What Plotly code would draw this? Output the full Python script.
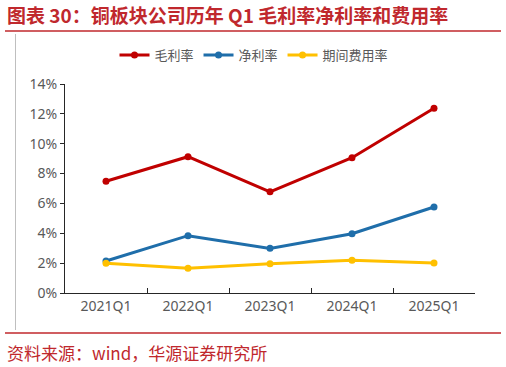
import plotly.graph_objects as go

categories = ["2021Q1", "2022Q1", "2023Q1", "2024Q1", "2025Q1"]
gross_margin = [0.0749, 0.0913, 0.0678, 0.0906, 0.1237]
net_margin = [0.0214, 0.0384, 0.0299, 0.0397, 0.0576]
expense_ratio = [0.0199, 0.0165, 0.0196, 0.0219, 0.0201]
series_names = ["毛利率", "净利率", "期间费用率"]
colors = ["#C00000", "#1F6EAA", "#FFC000"]

W, H = 506, 367
L, R, T, B = 65, 31, 84, 74

fig = go.Figure()
for name, vals, c in zip(series_names, [gross_margin, net_margin, expense_ratio], colors):
    fig.add_trace(go.Scatter(
        x=categories, y=vals, name=name, mode="lines+markers",
        line=dict(color=c, width=3),
        marker=dict(color=c, size=7),
    ))

CJK = "Noto Sans CJK SC"
red = "#C0282D"

def px(x):
    return (x - L) / (W - L - R)

def py(y):
    return (H - B - y) / (H - T - B)

fig.update_layout(
    width=W, height=H,
    margin=dict(l=L, r=R, t=T, b=B, autoexpand=False),
    paper_bgcolor="white", plot_bgcolor="white",
    showlegend=True,
    legend=dict(orientation="h", x=px(254), xanchor="center",
                y=py(55), yanchor="middle",
                font=dict(family=CJK, size=13, color="#595959"),
                itemwidth=30, tracegroupgap=0, bgcolor="rgba(0,0,0,0)"),
    xaxis=dict(type="category", showline=True, linecolor="#262626", linewidth=1.3,
               ticks="inside", tickson="boundaries", ticklen=5, tickcolor="#262626",
               showgrid=False, tickfont=dict(family="Noto Sans", size=14, color="#595959"),
               range=[-0.5, 4.5]),
    yaxis=dict(range=[0, 0.14], dtick=0.02, tickformat=".0%", showline=True,
               linecolor="#262626", linewidth=1.3, ticks="outside", ticklen=4,
               tickcolor="#262626", showgrid=False, zeroline=False,
               tickfont=dict(family="Noto Sans", size=14, color="#595959")),
)

fig.add_annotation(xref="paper", yref="paper", x=px(5), y=py(15),
                   xanchor="left", yanchor="middle", showarrow=False,
                   text="<b>图表 30：铜板块公司历年 Q1 毛利率净利率和费用率</b>",
                   font=dict(family=CJK, size=19, color=red))
fig.add_annotation(xref="paper", yref="paper", x=px(5), y=py(352),
                   xanchor="left", yanchor="middle", showarrow=False,
                   text="资料来源：wind，华源证券研究所",
                   font=dict(family=CJK, size=17, color=red))

fig.add_shape(type="line", xref="paper", yref="paper", x0=px(5), x1=px(501), y0=py(31), y1=py(31),
              line=dict(color=red, width=1.5))
fig.add_shape(type="line", xref="paper", yref="paper", x0=px(5), x1=px(501), y0=py(333), y1=py(333),
              line=dict(color=red, width=1.5))
fig.add_shape(type="line", xref="paper", yref="paper", x0=px(15.5), x1=px(15.5), y0=py(34), y1=py(330),
              line=dict(color="#BFBFBF", width=1))

fig.write_html("out.html", config={"displayModeBar": False},
               post_script="document.body.style.margin='0';document.body.style.padding='0';")
